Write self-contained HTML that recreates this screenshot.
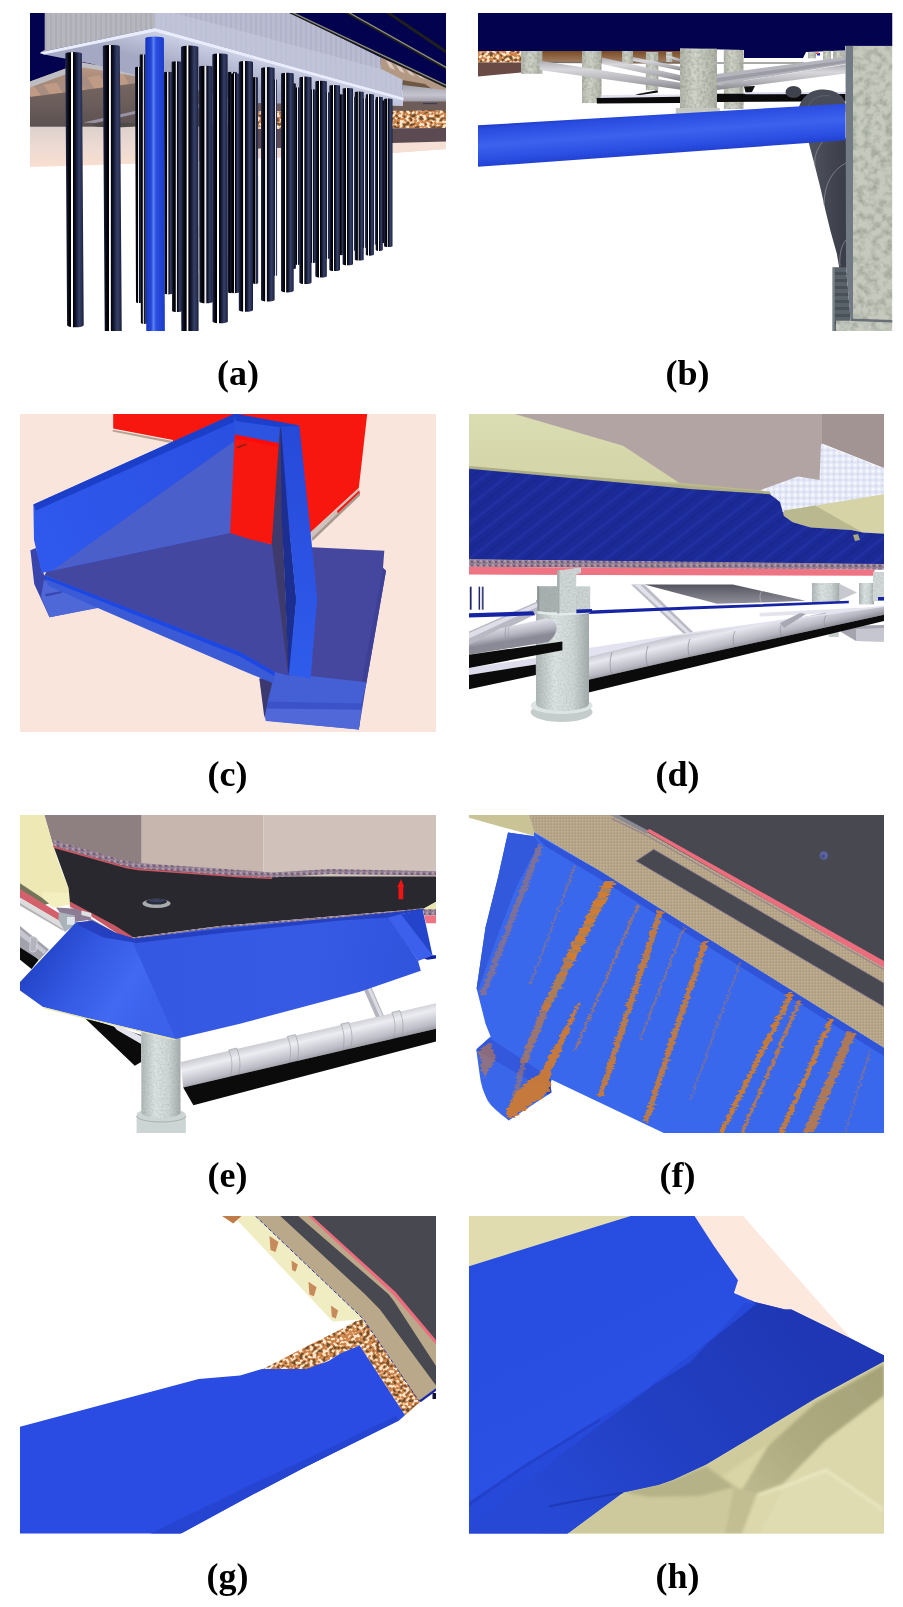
<!DOCTYPE html>
<html><head><meta charset="utf-8"><title>Figure</title>
<style>
html,body{margin:0;padding:0;background:#fff;}
body{width:903px;height:1607px;overflow:hidden;position:relative;font-family:"Liberation Serif",serif;}
svg{position:absolute;left:0;top:0;display:block;}
</style></head><body>
<svg width="903" height="1607" viewBox="0 0 903 1607">
<!-- defs -->
<defs>
<clipPath id="ca"><rect x="30" y="13" width="416" height="318"/></clipPath>
<clipPath id="cb"><rect x="478" y="13" width="414.5" height="318"/></clipPath>
<clipPath id="cc"><rect x="20" y="414" width="416" height="318"/></clipPath>
<clipPath id="cd"><rect x="469" y="414" width="415" height="318"/></clipPath>
<clipPath id="ce"><rect x="20" y="815" width="416" height="318"/></clipPath>
<clipPath id="cf"><rect x="469" y="815" width="415" height="318"/></clipPath>
<clipPath id="cg"><rect x="20" y="1216" width="416" height="317.5"/></clipPath>
<clipPath id="ch"><rect x="469" y="1216" width="415" height="317.5"/></clipPath>
<!-- dark pile gradient -->
<linearGradient id="pile" x1="0" x2="1" y1="0" y2="0">
<stop offset="0" stop-color="#232b4c"/><stop offset="0.1" stop-color="#10142a"/><stop offset="0.24" stop-color="#010103"/><stop offset="0.3" stop-color="#000"/>
<stop offset="0.335" stop-color="#fff"/><stop offset="0.4" stop-color="#fff"/><stop offset="0.44" stop-color="#020308"/>
<stop offset="0.56" stop-color="#11162e"/><stop offset="0.75" stop-color="#363f66"/><stop offset="0.88" stop-color="#2a3256"/><stop offset="1" stop-color="#141a34"/>
</linearGradient>
<linearGradient id="pile2" x1="0" x2="1" y1="0" y2="0">
<stop offset="0" stop-color="#1a2140"/><stop offset="0.2" stop-color="#03040a"/><stop offset="0.36" stop-color="#000"/>
<stop offset="0.42" stop-color="#e8e8f0"/><stop offset="0.5" stop-color="#e8e8f0"/><stop offset="0.56" stop-color="#060814"/>
<stop offset="0.78" stop-color="#333c62"/><stop offset="1" stop-color="#161c38"/>
</linearGradient>
<linearGradient id="pileb" x1="0" x2="1" y1="0" y2="0">
<stop offset="0" stop-color="#151b36"/><stop offset="0.3" stop-color="#03040a"/><stop offset="0.6" stop-color="#1c2444"/><stop offset="0.8" stop-color="#343e66"/><stop offset="1" stop-color="#1a2040"/>
</linearGradient>
<linearGradient id="bluepile" x1="0" x2="1" y1="0" y2="0">
<stop offset="0" stop-color="#1735b8"/><stop offset="0.3" stop-color="#2448d8"/><stop offset="0.42" stop-color="#5b80f2"/><stop offset="0.55" stop-color="#2a4ee0"/><stop offset="1" stop-color="#1a3cc8"/>
</linearGradient>
<!-- concrete noise -->
<filter id="conc" x="0" y="0" width="100%" height="100%">
<feTurbulence type="fractalNoise" baseFrequency="0.35" numOctaves="2" seed="3" result="n"/>
<feColorMatrix in="n" type="matrix" values="0 0 0 0 0  0 0 0 0 0  0 0 0 0 0  0.9 0 0 0 -0.3" result="a"/>
<feFlood flood-color="#6e7468"/><feComposite operator="in" in2="a" result="sp"/>
<feMerge><feMergeNode in="SourceGraphic"/><feMergeNode in="sp"/></feMerge>
<feComposite operator="in" in2="SourceGraphic"/>
</filter>
<filter id="concw" x="0" y="0" width="100%" height="100%">
<feTurbulence type="fractalNoise" baseFrequency="0.14" numOctaves="3" seed="11" result="n"/>
<feColorMatrix in="n" type="matrix" values="0 0 0 0 0  0 0 0 0 0  0 0 0 0 0  1.6 0 0 0 -0.62" result="a"/>
<feFlood flood-color="#8e9488"/><feComposite operator="in" in2="a" result="sp"/>
<feMerge><feMergeNode in="SourceGraphic"/><feMergeNode in="sp"/></feMerge>
<feComposite operator="in" in2="SourceGraphic"/>
</filter>
<filter id="weaveF" x="0" y="0" width="100%" height="100%" color-interpolation-filters="sRGB">
<feTurbulence type="fractalNoise" baseFrequency="0.3 0.34" numOctaves="1" seed="9"/>
<feColorMatrix type="matrix" values="2.6 0 0 0 -0.8  2.6 0 0 0 -0.8  2.6 0 0 0 -0.8  0 0 0 0 1"/>
<feComponentTransfer><feFuncR type="discrete" tableValues="0.42 0.55 0.78 0.82 0.84 0.92 0.97 0.97"/><feFuncG type="discrete" tableValues="0.32 0.4 0.5 0.52 0.55 0.78 0.9 0.9"/><feFuncB type="discrete" tableValues="0.2 0.25 0.28 0.3 0.34 0.62 0.8 0.8"/></feComponentTransfer>
<feGaussianBlur stdDeviation="0.5"/>
<feComposite operator="in" in2="SourceGraphic"/>
</filter>
<filter id="conc2" x="0" y="0" width="100%" height="100%">
<feTurbulence type="fractalNoise" baseFrequency="0.5" numOctaves="2" seed="8" result="n"/>
<feColorMatrix in="n" type="matrix" values="0 0 0 0 0  0 0 0 0 0  0 0 0 0 0  0.7 0 0 0 -0.25" result="a"/>
<feFlood flood-color="#8c9494"/><feComposite operator="in" in2="a" result="sp"/>
<feMerge><feMergeNode in="SourceGraphic"/><feMergeNode in="sp"/></feMerge>
<feComposite operator="in" in2="SourceGraphic"/>
</filter>
<!-- speckle (purple-gray/pink band) -->
<pattern id="speck" width="6" height="4" patternUnits="userSpaceOnUse">
<rect width="6" height="4" fill="#8e7c92"/><rect x="0" y="0" width="2" height="2" fill="#b49aa6"/><rect x="3" y="1" width="2" height="2" fill="#6c5e7c"/><rect x="1" y="2" width="1.5" height="2" fill="#a88a90"/>
</pattern>
<!-- orange dots -->
<pattern id="odots" width="6" height="5" patternUnits="userSpaceOnUse">
<rect width="6" height="5" fill="#a87848"/><circle cx="1.5" cy="1.5" r="1.3" fill="#dcb488"/><circle cx="4.5" cy="3.8" r="1.2" fill="#8c5428"/><circle cx="4.3" cy="1" r="0.8" fill="#f0d0a0"/>
</pattern>
<pattern id="weave" width="9" height="8" patternUnits="userSpaceOnUse" patternTransform="rotate(-32)">
<rect width="9" height="8" fill="#c48a62"/><ellipse cx="2.2" cy="2" rx="2.2" ry="1.4" fill="#f2dcc8"/><ellipse cx="6.8" cy="6" rx="2.2" ry="1.4" fill="#f0d4bc"/><ellipse cx="6.5" cy="2" rx="1.8" ry="1.3" fill="#8a6a48"/><ellipse cx="2" cy="6" rx="1.8" ry="1.3" fill="#96704c"/>
</pattern>
<pattern id="hatch" width="14" height="14" patternUnits="userSpaceOnUse" patternTransform="rotate(-38)">
<rect width="14" height="14" fill="#1b2a96"/><rect y="0" width="14" height="3" fill="#2030a0"/><rect y="7" width="14" height="1.5" fill="#18268e"/>
</pattern>
<pattern id="dotw" width="6" height="6" patternUnits="userSpaceOnUse">
<rect width="6" height="6" fill="#e4e8f6"/><circle cx="3" cy="3" r="1.6" fill="#f6f8ff"/><circle cx="0" cy="0" r="1" fill="#ccd2ec"/><circle cx="6" cy="0" r="1" fill="#ccd2ec"/><circle cx="0" cy="6" r="1" fill="#ccd2ec"/><circle cx="6" cy="6" r="1" fill="#ccd2ec"/>
</pattern>
<pattern id="vstr" width="5" height="10" patternUnits="userSpaceOnUse">
<rect width="5" height="10" fill="#b6b6be"/><rect x="0" width="2" height="10" fill="#adadb6"/>
</pattern>
<pattern id="vstr2" width="5" height="10" patternUnits="userSpaceOnUse">
<rect width="5" height="10" fill="#b9bcd1"/><rect x="0" width="2" height="10" fill="#b0b3c9"/>
</pattern>
<linearGradient id="gpipe" x1="0" x2="0" y1="0" y2="1">
<stop offset="0" stop-color="#c8c8d0"/><stop offset="0.3" stop-color="#ececf2"/><stop offset="0.7" stop-color="#c4c4cc"/><stop offset="1" stop-color="#8c8c98"/>
</linearGradient>
<linearGradient id="colg" x1="0" x2="1" y1="0" y2="0">
<stop offset="0" stop-color="#aeb6b6"/><stop offset="0.35" stop-color="#dde4e4"/><stop offset="0.7" stop-color="#cfd6d6"/><stop offset="1" stop-color="#a2aaaa"/>
</linearGradient>
<linearGradient id="colg2" x1="0" x2="1" y1="0" y2="0">
<stop offset="0" stop-color="#b4b8ac"/><stop offset="0.4" stop-color="#d4d8cc"/><stop offset="1" stop-color="#b0b4a8"/>
</linearGradient>
</defs>

<!-- a -->
<g clip-path="url(#ca)">
<rect x="30" y="13" width="416" height="318" fill="#fff"/>
<polygon points="30,13 446,13 446,90 300,90 160,30 30,100" fill="#02024e"/>
<defs><linearGradient id="peachA" x1="0" x2="0" y1="0" y2="1"><stop offset="0" stop-color="#ddd0cc"/><stop offset="0.5" stop-color="#ecdad2"/><stop offset="1" stop-color="#f9dfd0"/></linearGradient><linearGradient id="brownA" x1="0" x2="0" y1="0" y2="1"><stop offset="0" stop-color="#bd9a84"/><stop offset="0.45" stop-color="#9c8274"/><stop offset="0.8" stop-color="#8a7c78"/><stop offset="1" stop-color="#6e6a6a"/></linearGradient><linearGradient id="brownB" x1="0" x2="0" y1="0" y2="1"><stop offset="0" stop-color="#7c6a64"/><stop offset="1" stop-color="#5c5252"/></linearGradient><linearGradient id="undA" gradientUnits="userSpaceOnUse" x1="200" y1="42" x2="192" y2="72"><stop offset="0" stop-color="#cdd1e6"/><stop offset="1" stop-color="#a4a8c2"/></linearGradient><linearGradient id="gbandA" x1="0" x2="0" y1="0" y2="1"><stop offset="0" stop-color="#a4a4b0"/><stop offset="0.6" stop-color="#c4c4ce"/><stop offset="1" stop-color="#9c98a4"/></linearGradient></defs>
<polygon points="30,126 250,126 250,149 392,142.5 446,141.5 446,149 392,153 135,163.8 30,167" fill="url(#peachA)"/>
<polygon points="30,81.5 82,62.5 134,72 200,80 200,126.5 30,126.5" fill="url(#brownA)"/>
<polygon points="30,87 200,58 200,75 30,97" fill="#bf9a84"/>
<polygon points="34,85.8 43,84.3 50,94.0 41,95.5" fill="#a08a80" opacity="0.75"/>
<polygon points="56,82.1 65,80.6 72,91.4 63,92.9" fill="#a08a80" opacity="0.75"/>
<polygon points="78,78.3 87,76.8 94,88.7 85,90.2" fill="#a08a80" opacity="0.75"/>
<polygon points="100,74.6 109,73.1 116,86.1 107,87.6" fill="#a08a80" opacity="0.75"/>
<polygon points="122,70.9 131,69.4 138,83.5 129,85.0" fill="#a08a80" opacity="0.75"/>
<polygon points="144,67.1 153,65.6 160,80.8 151,82.3" fill="#a08a80" opacity="0.75"/>
<polygon points="166,63.4 175,61.9 182,78.2 173,79.7" fill="#a08a80" opacity="0.75"/>
<polygon points="188,59.6 197,58.1 204,75.5 195,77.0" fill="#a08a80" opacity="0.75"/>
<polygon points="30,97 200,75 200,126.5 30,126.5" fill="url(#brownB)"/>
<polygon points="30,81.5 82,62.5 134,72 200,80 200,84 134,76 84,67.5 30,87.5" fill="#bdbdc2"/>
<polygon points="83,122.5 135,111 200,104 200,108 135,114 95,123" fill="#9a92a2"/>
<ellipse cx="114" cy="124.8" rx="22" ry="2.6" fill="#4e4a46"/>
<polygon points="380,57 446,86.6 446,92 402,82 381,70" fill="#b39884"/>
<polygon points="386,60.5 391,62.8 395,70.0 390,68.0" fill="#e4d6cc" opacity="0.8"/>
<polygon points="396,65.0 401,67.3 405,73.2 400,71.2" fill="#e4d6cc" opacity="0.8"/>
<polygon points="406,69.5 411,71.8 415,76.4 410,74.4" fill="#e4d6cc" opacity="0.8"/>
<polygon points="416,74.0 421,76.3 425,79.6 420,77.6" fill="#e4d6cc" opacity="0.8"/>
<polygon points="426,78.5 431,80.8 435,82.8 430,80.8" fill="#e4d6cc" opacity="0.8"/>
<polygon points="436,83.0 441,85.3 445,86.0 440,84.0" fill="#e4d6cc" opacity="0.8"/>
<polygon points="402.4,80 425,84 432,89 402.4,86" fill="#6e5844"/>
<rect x="250" y="86" width="152" height="16" fill="#9a9cae"/>
<polygon points="402.4,85 446,90 446,102 402.4,102" fill="url(#gbandA)"/>
<rect x="250" y="101.5" width="196" height="10" fill="#6e5c58"/>
<polygon points="250,111.5 446,110.5 446,128 250,129" fill="#c48a62" filter="url(#weaveF)"/>
<polygon points="250,129 446,128 446,142.5 250,149" fill="#5c4a52"/>
<polygon points="392,143 446,141.5 446,149 392,153" fill="#f6e0d6"/>
<rect x="423" y="103" width="14" height="1.2" fill="#3c3c50"/>
<polygon points="44.7,13 155,13 155,28 40.4,52.2 44.7,50" fill="url(#vstr)"/>
<polygon points="155,13 291,13 380.3,57.3 381.2,69.1 402.4,79.8 402.4,97.4 155,28" fill="url(#vstr2)"/>
<polygon points="155,13 174.5,13 381.2,69.1 402.4,79.8 402.4,97.4 155,28" fill="#c6cade" opacity="0.6"/>
<polygon points="289,13 295,13 446,84.5 446,88" fill="#1c1c1c"/>
<polygon points="292,13 295,13 446,84.5 446,86" fill="#8c8c84"/>
<polygon points="345,13 351,13 446,66.5 446,70" fill="#20201c"/>
<polygon points="348.5,13 351,13 446,66.5 446,68" fill="#90908a"/>
<polygon points="386,13 391,13 446,50 446,53.5" fill="#20201c"/>
<polygon points="40.4,52.2 155,28 403,97.6 403,106 250,103 135,75 90,63.5 40.4,53.8" fill="url(#undA)"/>
<polygon points="40.4,52.2 155,28 403.5,97.8 403.5,100.5 155,31.5 44,54.5" fill="#e9ecfa"/>
<path d="M135.0,67.5 A3.2,0.8 0 0 1 141.5,67.5 L142.5,302.0 A3.2,1.1 0 0 1 136.0,302.0 Z" fill="url(#pile2)"/>
<path d="M139.7,54.8 A3.2,0.8 0 0 1 146.0,54.8 L147.2,323.0 A3.2,1.1 0 0 1 140.9,323.0 Z" fill="url(#pile2)"/>
<path d="M163.9,72.6 A4.0,0.8 0 0 1 172.0,72.6 L172.5,293.3 A4.0,1.1 0 0 1 164.4,293.3 Z" fill="url(#pile2)"/>
<path d="M171.6,61.9 A5.0,0.9 0 0 1 181.5,61.9 L182.0,311.0 A5.0,1.2 0 0 1 172.1,311.0 Z" fill="url(#pile2)"/>
<path d="M199.0,66.7 A6.8,1.2 0 0 1 212.5,66.7 L212.9,301.8 A6.8,1.7 0 0 1 199.4,301.8 Z" fill="url(#pile2)"/>
<path d="M227.6,72.6 A4.7,0.8 0 0 1 237.0,72.6 L237.3,292.0 A4.7,1.2 0 0 1 227.9,292.0 Z" fill="url(#pile2)"/>
<path d="M230.0,73.9 A4.8,0.9 0 0 1 239.5,73.9 L239.8,292.0 A4.8,1.2 0 0 1 230.3,292.0 Z" fill="url(#pile2)"/>
<path d="M252.5,77.7 A2.8,0.8 0 0 1 258.0,77.7 L258.2,283.0 A2.8,1.1 0 0 1 252.7,283.0 Z" fill="url(#pile2)"/>
<path d="M274.0,80.0 A1.5,0.8 0 0 1 277.0,80.0 L277.1,275.0 A1.5,1.1 0 0 1 274.1,275.0 Z" fill="url(#pile2)"/>
<path d="M292.0,84.0 A2.0,0.8 0 0 1 296.0,84.0 L296.0,268.0 A2.0,1.1 0 0 1 292.0,268.0 Z" fill="url(#pile2)"/>
<path d="M295.0,87.9 A2.8,0.8 0 0 1 300.5,87.9 L300.5,264.0 A2.8,1.1 0 0 1 295.0,264.0 Z" fill="url(#pile2)"/>
<path d="M310.0,90.0 A3.0,0.8 0 0 1 316.0,90.0 L316.0,262.0 A3.0,1.1 0 0 1 310.0,262.0 Z" fill="url(#pile2)"/>
<path d="M325.0,93.0 A2.5,0.8 0 0 1 330.0,93.0 L330.0,258.0 A2.5,1.1 0 0 1 325.0,258.0 Z" fill="url(#pile2)"/>
<path d="M339.0,95.0 A2.2,0.8 0 0 1 343.5,95.0 L343.5,254.0 A2.2,1.1 0 0 1 339.0,254.0 Z" fill="url(#pile2)"/>
<path d="M352.0,97.0 A1.8,0.8 0 0 1 355.5,97.0 L355.5,250.0 A1.8,1.1 0 0 1 352.0,250.0 Z" fill="url(#pile2)"/>
<path d="M362.5,99.0 A2.0,0.8 0 0 1 366.5,99.0 L366.5,247.0 A2.0,1.1 0 0 1 362.5,247.0 Z" fill="url(#pile2)"/>
<path d="M373.0,100.0 A1.5,0.8 0 0 1 376.0,100.0 L376.0,244.0 A1.5,1.1 0 0 1 373.0,244.0 Z" fill="url(#pile2)"/>
<path d="M382.0,101.0 A1.2,0.8 0 0 1 384.5,101.0 L384.5,242.0 A1.2,1.1 0 0 1 382.0,242.0 Z" fill="url(#pile2)"/>
<path d="M65.3,53.5 A8.3,1.5 0 0 1 81.9,53.5 L83.7,325.2 A8.3,2.1 0 0 1 67.1,325.2 Z" fill="url(#pile)"/>
<path d="M102.8,46.4 A8.5,1.5 0 0 1 119.8,46.4 L121.8,340.0 A8.5,2.1 0 0 1 104.8,340.0 Z" fill="url(#pile)"/>
<path d="M145.3,38.2 A9.3,1.7 0 0 1 163.9,38.2 L164.9,340.0 A9.3,2.3 0 0 1 146.3,340.0 Z" fill="url(#bluepile)"/>
<path d="M181.0,47.0 A8.7,1.6 0 0 1 198.3,47.0 L198.6,340.0 A8.7,2.2 0 0 1 181.3,340.0 Z" fill="url(#pile)"/>
<path d="M212.3,54.8 A7.6,1.4 0 0 1 227.6,54.8 L227.8,321.4 A7.6,1.9 0 0 1 212.5,321.4 Z" fill="url(#pile)"/>
<path d="M238.8,62.2 A7.1,1.3 0 0 1 253.0,62.2 L253.0,310.0 A7.1,1.8 0 0 1 238.8,310.0 Z" fill="url(#pile)"/>
<path d="M261.0,68.3 A6.8,1.2 0 0 1 274.6,68.3 L274.6,299.7 A6.8,1.7 0 0 1 261.0,299.7 Z" fill="url(#pile)"/>
<path d="M281.0,73.9 A6.3,1.1 0 0 1 293.7,73.9 L293.7,290.8 A6.3,1.6 0 0 1 281.0,290.8 Z" fill="url(#pile)"/>
<path d="M299.3,77.7 A6.1,1.1 0 0 1 311.5,77.7 L311.5,282.6 A6.1,1.5 0 0 1 299.3,282.6 Z" fill="url(#pile)"/>
<path d="M315.3,81.5 A5.8,1.0 0 0 1 326.8,81.5 L326.8,276.3 A5.8,1.4 0 0 1 315.3,276.3 Z" fill="url(#pile)"/>
<path d="M329.3,86.0 A5.3,1.0 0 0 1 340.0,86.0 L340.0,269.7 A5.3,1.3 0 0 1 329.3,269.7 Z" fill="url(#pile)"/>
<path d="M342.6,89.0 A5.2,0.9 0 0 1 353.0,89.0 L353.0,264.0 A5.2,1.3 0 0 1 342.6,264.0 Z" fill="url(#pile)"/>
<path d="M354.8,92.2 A4.4,0.8 0 0 1 363.7,92.2 L363.7,259.5 A4.4,1.1 0 0 1 354.8,259.5 Z" fill="url(#pile)"/>
<path d="M365.8,94.8 A4.0,0.8 0 0 1 373.9,94.8 L373.9,254.6 A4.0,1.1 0 0 1 365.8,254.6 Z" fill="url(#pile)"/>
<path d="M375.7,97.3 A3.6,0.8 0 0 1 382.8,97.3 L382.8,250.0 A3.6,1.1 0 0 1 375.7,250.0 Z" fill="url(#pile)"/>
<path d="M384.0,99.3 A4.2,0.8 0 0 1 392.5,99.3 L392.5,246.0 A4.2,1.1 0 0 1 384.0,246.0 Z" fill="url(#pile)"/>
</g>
<!-- b -->
<g clip-path="url(#cb)">
<rect x="478" y="13" width="415" height="318" fill="#fff"/>
<defs>
<linearGradient id="bpipe" gradientUnits="userSpaceOnUse" x1="660" y1="112" x2="663" y2="153">
<stop offset="0" stop-color="#1f3cc6"/><stop offset="0.1" stop-color="#294be0"/><stop offset="0.5" stop-color="#3c62ee"/><stop offset="0.85" stop-color="#2a4ee2"/><stop offset="1" stop-color="#2242d2"/></linearGradient>
<linearGradient id="brB" x1="0" x2="0" y1="0" y2="1"><stop offset="0" stop-color="#7a4c24"/><stop offset="1" stop-color="#a8846c"/></linearGradient>
<linearGradient id="gpb" x1="0" x2="0" y1="0" y2="1"><stop offset="0" stop-color="#acacb0"/><stop offset="0.3" stop-color="#d8d8dc"/><stop offset="0.7" stop-color="#b0b0b6"/><stop offset="1" stop-color="#85858c"/></linearGradient>
<linearGradient id="tunn" x1="0" x2="1" y1="0" y2="0"><stop offset="0" stop-color="#50545e"/><stop offset="1" stop-color="#3a3c48"/></linearGradient>
</defs>
<polygon points="478,13 892.5,13 892.5,46 845,46 845,50.5 806,52 803,58 744,58 744,50 680,48.5 680,51 478,51" fill="#02024e"/>
<rect x="478" y="51" width="43" height="11.5" fill="#c48a62" filter="url(#weaveF)"/>
<polygon points="478,62.4 521,62.4 521,72.6 478,76.4" fill="#6a4a44"/>
<polygon points="542,51 680,51 680,64 542,63" fill="url(#brB)"/>
<rect x="542" y="61.8" width="138" height="1.2" fill="#70706c"/>
<rect x="717" y="62.4" width="87" height="1.2" fill="#70706c"/>
<rect x="521" y="51" width="21.6" height="22.9" fill="url(#colg2)" filter="url(#conc)"/>
<rect x="582" y="51" width="19.7" height="52.2" fill="url(#colg2)" filter="url(#conc)"/>
<rect x="622" y="51" width="11.0" height="12.0" fill="url(#colg2)" filter="url(#conc)"/>
<rect x="645.7" y="52" width="12.8" height="38.4" fill="url(#colg2)" filter="url(#conc)"/>
<rect x="666" y="52" width="6.5" height="10.0" fill="url(#colg2)" filter="url(#conc)"/>
<rect x="723.7" y="50" width="20.0" height="59.0" fill="url(#colg2)" filter="url(#conc)"/>
<rect x="808" y="52" width="8.0" height="6.5" fill="url(#colg2)" filter="url(#conc)"/>
<rect x="823" y="50.6" width="8.0" height="9.4" fill="url(#colg2)" filter="url(#conc)"/>
<rect x="833" y="50.6" width="12.5" height="11.4" fill="url(#colg2)" filter="url(#conc)"/>
<rect x="817" y="53" width="3" height="2.5" fill="#2030d0"/><rect x="816" y="52.5" width="3" height="1.5" fill="#e04030"/>
<polygon points="633,57 680,66.5 680,70.5 633,61" fill="url(#gpb)"/>
<polygon points="666,54.5 680,59 680,62 666,57" fill="url(#gpb)"/>
<polygon points="602,57.5 680,75 680,81 602,64" fill="url(#gpb)"/>
<polygon points="538.8,60.6 681,82.8 681,89.7 540,70" fill="url(#gpb)"/>
<polygon points="602,95 680,94.5 680,97 600,98" fill="#e0e2f2"/>
<polygon points="635,94.4 657.5,90.2 658,92.6 640,95" fill="#111"/>
<polygon points="596.6,98 680,96.8 680,103 597,103.4" fill="#0a0a0a"/>
<polygon points="717,74 845.5,57 845.5,64 717,85" fill="#b4b4bc"/>
<polygon points="717,78 845.5,60 845.5,63 717,82" fill="#9c9ca6"/>
<polygon points="717,85 845.5,64.5 845.5,73.5 717,90" fill="url(#gpb)"/>
<polygon points="744,86.4 755,86 752,92 746,94" fill="#111"/>
<polygon points="717,93.8 845.5,93.8 845.5,101.3 717,102" fill="#0a0a0a"/>
<polygon points="745,92.3 845.5,92 845.5,94 745,94.3" fill="#d8daf0"/>
<ellipse cx="793.5" cy="92" rx="8" ry="6" fill="#3e424c"/>
<path d="M798,112 C800,96 812,89 824,89.5 C836,90 844,96 845.5,104 L845.5,112 Z" fill="#484c58"/>
<path d="M806,112 C808,100 818,94 830,96" fill="none" stroke="#5c606a" stroke-width="1"/>
<rect x="680" y="48.4" width="37.0" height="64.6" fill="url(#colg2)" filter="url(#conc)"/>
<rect x="675.8" y="108" width="44" height="6" fill="#c4c8c0"/>
<path d="M808,140 L814.6,164.7 L820.8,189.4 L825.7,211.6 L830.6,231.4 L836.8,253.6 L839.3,268 L846,268 L846,138 Z" fill="url(#tunn)"/>
<path d="M823,141 C816,150 814,158 815,166" fill="none" stroke="#8c8c90" stroke-width="0.8"/>
<path d="M846,163 C832,170 824,185 824,205" fill="none" stroke="#8c8c90" stroke-width="0.8"/>
<path d="M846,240 C841,246 839,256 840,266" fill="none" stroke="#8c8c90" stroke-width="0.8"/>
<polygon points="478,125.3 845.5,103.7 845.5,140.3 478,166.8" fill="url(#bpipe)"/>
<polygon points="832.6,267.2 846,267.2 851,324 851,331 832.6,331" fill="#5a626a"/>
<polygon points="835,272 846.4,272 846.9,275 835,275" fill="#4a5058"/>
<polygon points="835,279 847.0,279 847.5,282 835,282" fill="#4a5058"/>
<polygon points="835,286 847.5,286 848.0,289 835,289" fill="#4a5058"/>
<polygon points="835,293 848.1,293 848.6,296 835,296" fill="#4a5058"/>
<polygon points="835,300 848.6,300 849.1,303 835,303" fill="#4a5058"/>
<polygon points="835,307 849.2,307 849.7,310 835,310" fill="#4a5058"/>
<polygon points="835,314 849.8,314 850.3,317 835,317" fill="#4a5058"/>
<polygon points="835,321 850.3,321 850.8,324 835,324" fill="#4a5058"/>
<rect x="832.6" y="267.2" width="2" height="64" fill="#7c848c"/>
<polygon points="845.5,45.7 853,45.7 853,319 850.4,319 846,267" fill="#727a84"/>
<rect x="853" y="45.7" width="39.5" height="275" fill="#c6cabe" filter="url(#concw)"/>
<rect x="836" y="320.5" width="56.5" height="11" fill="#c8ccc2" filter="url(#concw)"/>
<polygon points="851,318.5 892.5,320 892.5,322.5 851,321" fill="#6a7078"/>
</g>
<!-- c -->
<g clip-path="url(#cc)">
<rect x="20" y="414" width="416" height="318" fill="#f9e5dc"/>
<defs>
<linearGradient id="wallL" gradientUnits="userSpaceOnUse" x1="40" y1="520" x2="230" y2="440"><stop offset="0" stop-color="#2f58ec"/><stop offset="1" stop-color="#2a50e2"/></linearGradient>
<linearGradient id="endR" gradientUnits="userSpaceOnUse" x1="0" y1="426" x2="0" y2="680"><stop offset="0" stop-color="#2649d8"/><stop offset="0.6" stop-color="#2c54e4"/><stop offset="1" stop-color="#2f5cec"/></linearGradient>
</defs>
<polygon points="113.2,414 367.2,414 358.8,488 310.4,532.5 240,545 173,441 113.2,429.3" fill="#f7170e"/>
<polygon points="113.2,429.3 173,440.8 173,443.5 112.5,431.6" fill="#b9a293"/>
<polygon points="112.8,428.6 173,440 173,441 113,429.8" fill="#f4ece6"/>
<polygon points="358.8,488 360,494 312,539.5 310.4,532.5" fill="#cfc2bc"/>
<polygon points="359.2,490.5 360,494 338,514 337,511" fill="#f7170e"/>
<polygon points="359.5,492.5 360,495.5 312.5,541 312,538" fill="#a89890"/>
<polygon points="311.7,547.2 384.3,550.8 383,568 386,570.7 366.5,682.3 358.8,729.4 300,700 300,560" fill="#45479e"/>
<polygon points="383,568 386,570.7 366.5,682.3 361,705 358.8,729.4 353,728 362,680" fill="#3e4098"/>
<polygon points="259.5,678.4 272,670 292,672 311,676 366.5,682.3 361.4,705 358.8,729.4 265.8,720.5" fill="#4560d4"/>
<polygon points="264.4,704 362,707 358.8,729.4 265.8,721" fill="#5068d8"/>
<polygon points="265.6,701.5 362.5,703.5 361.5,709.7 265,708.5" fill="#3c52c8"/>
<polygon points="259.4,678.7 273,680 268,700 264.4,718" fill="#3c3870"/>
<polygon points="30.4,550.3 36,548 44,575 100.4,607 49.5,617.3 34.2,584" fill="#3a45ac"/>
<polygon points="44,580 100.4,605.5 100.4,607.5 49.5,617.3 41,597" fill="#4f68d8"/>
<polygon points="45,594 62,591 62,593 46,596.5" fill="#3848b0"/>
<polygon points="47,571 52,569.8 231.6,532.2 250,538.6 275,545 290,676 274.8,672 44.4,575.3" fill="#44479f"/>
<polygon points="44.4,575.3 240,652 274.8,672 273.5,683.5 240,669.5 99,608.4 48,585.5" fill="#3b5ad6"/>
<polygon points="44.4,575.3 240,652 274.8,672 274.4,676 240,656.5 45.5,579" fill="#1d47e2"/>
<polygon points="33.4,504.4 234.1,414 236.6,414.8 235,434.4 231.6,532.5 52,570.7 41.8,573 34,540" fill="url(#wallL)"/>
<polygon points="52,570.7 234.6,441 231.6,532.5" fill="#4b5fcb"/>
<polygon points="33.4,504.4 234.1,414 238,414 236,421 36,510.5" fill="#1c3fca"/>
<polygon points="234.8,434.4 279,443.3 272.2,544.6 250,539.2 230.2,533" fill="#f7170e"/>
<polygon points="235.5,434.4 279,443.3 279,447 235.3,438.5" fill="#ff0a08"/>
<polygon points="236,447 246,443.5 247,444.5 238,448.5" fill="#7a2018" opacity="0.8"/>
<polygon points="234,418 236.6,414.8 299,425.5 299,430 281,443.5 235,434.4" fill="#2c54e0"/>
<polygon points="234.1,414 238,414 299,425.5 298,430 236,421" fill="#1d40cc"/>
<polygon points="279.9,428 271.8,543 288,673 289,673 285,581.8 282,517 281,428" fill="#3e3a6c"/>
<polygon points="280.5,428 281.6,517 284.8,581.8 288.4,673 290,673 296.4,599.6 290,533.3 282,428" fill="#1c2e90"/>
<polygon points="281,427 299.4,425.7 310.7,533.3 317.2,599.6 313.1,646.5 310.7,678.4 288.8,675 296.1,599.6 289.6,533.3" fill="url(#endR)"/>
</g>
<!-- d -->
<g clip-path="url(#cd)">
<rect x="469" y="414" width="415" height="318" fill="#fff"/>
<defs>
<linearGradient id="yelD" x1="0" x2="0" y1="0" y2="1"><stop offset="0" stop-color="#dadcb2"/><stop offset="1" stop-color="#d2d4a6"/></linearGradient>
<linearGradient id="coneD" x1="0" x2="0" y1="0" y2="1"><stop offset="0" stop-color="#54545e"/><stop offset="1" stop-color="#90909a"/></linearGradient>
<linearGradient id="gpd" gradientUnits="userSpaceOnUse" x1="700" y1="630" x2="706" y2="656"><stop offset="0" stop-color="#c4c4cc"/><stop offset="0.3" stop-color="#e8e8f0"/><stop offset="0.75" stop-color="#b8b8c2"/><stop offset="1" stop-color="#8a8a96"/></linearGradient>
<linearGradient id="gpd2" gradientUnits="userSpaceOnUse" x1="500" y1="618" x2="504" y2="642"><stop offset="0" stop-color="#c4c4cc"/><stop offset="0.3" stop-color="#e6e6ee"/><stop offset="0.75" stop-color="#b4b4c0"/><stop offset="1" stop-color="#8a8a96"/></linearGradient>
</defs>
<rect x="469" y="414" width="353" height="120" fill="#b3a4a4"/>
<polygon points="822,414 884,414 884,468 822,443.5" fill="#a39494"/>
<polygon points="759.6,490.4 797.8,476.4 819.5,480 821,444 884,468.5 884,496 810,512 782,512 776,498" fill="url(#dotw)"/>
<polygon points="469,414 514.8,414 623,445.8 679,482.8 700,486 760.9,490.4 770,494.5 469,470" fill="url(#yelD)"/>
<polygon points="600,478 679,482.8 760.9,490.4 770,494.5 690,489.5" fill="#bcba8c"/>
<polygon points="783.8,510.8 884,494.2 884,534 862.8,532.5 851.3,530 810.5,527.4 792.7,522.3 785,516" fill="#d6d4a6"/>
<polygon points="783.8,510.8 815,505.5 862.8,532.5 851.3,530 810.5,527.4 792.7,522.3 785,516" fill="#bab88e"/>
<polygon points="469,466 600,477.5 690,486 769.8,491.5 771,495 690,489.5 469,469.5" fill="#adad86"/>
<polygon points="469,468.8 690,489 769.8,494.2 780,502 783.8,516 792.7,522.3 810.5,527.4 851.3,530 862.8,532.5 884,533.7 884,564.5 469,559.5" fill="url(#hatch)"/>
<polygon points="853,535 858,534 860,540 855,541" fill="#a8a680"/>
<polygon points="469,559.2 884,564 884,569.8 469,566.8" fill="url(#speck)"/>
<polygon points="469,566.8 874.5,569.6 874.5,575.7 469,574.6" fill="#ee7484"/>
<polygon points="644.3,584.6 732.9,584.4 805.4,600.8 760,602.5 717,603.8" fill="url(#coneD)"/>
<path d="M762,591 C759.5,594 759.5,598 761,602" stroke="#b8b8c0" stroke-width="0.7" fill="none"/>
<polygon points="839.8,584 857,592.5 840,600" fill="#c8c8d0"/>
<rect x="811.8" y="583" width="28" height="19" fill="url(#colg)" filter="url(#conc2)"/>
<rect x="859" y="583" width="15.2" height="21.6" fill="url(#colg)" filter="url(#conc2)"/>
<rect x="873" y="572" width="11" height="29" fill="#d4dada" filter="url(#conc2)"/>
<rect x="828.7" y="632" width="10" height="5" fill="#c4cccc"/>
<polygon points="631,584.4 644.3,584.4 695.2,634 686.4,636.5" fill="#bcbcc6"/>
<polygon points="634,584.4 640,584.4 692,634.6 689,635.6" fill="#e2e2ea"/>
<polygon points="759.6,613 884,606.5 884,610.5 759.6,616.5" fill="#e4e4ee"/>
<polygon points="780,622 825.8,612.5 828,616 783,627.5" fill="#b8b8c2"/>
<polygon points="841,626 884,625 884,641.5 856,641 841,632" fill="#a4a4ae"/>
<polygon points="856,629 884,628 884,641.5 856,641" fill="#c6c6d0"/>
<polygon points="469,668 535.9,658 535.9,664.4 469,675" fill="#dcdcec"/>
<polygon points="469,675 535.9,664.4 535.9,675 469,689.2" fill="#0b0b0b"/>
<polygon points="588.6,647.9 690,632.6 884,605.5 884,607 690,636.4 588.6,656.8" fill="#e2e2f0"/>
<polygon points="588.6,656.8 673,636.4 884,607 884,614.8 673,660.6 588.6,679.7" fill="url(#gpd)"/>
<path d="M612,652.3 C609.5,660.0 609.5,667.3 612,674.6" stroke="#8e8e9a" stroke-width="0.7" fill="none"/>
<path d="M648,646.1 C645.5,653.3 645.5,660.0 648,666.6" stroke="#8e8e9a" stroke-width="0.7" fill="none"/>
<path d="M690,638.9 C687.5,645.4 687.5,651.4 690,657.4" stroke="#8e8e9a" stroke-width="0.7" fill="none"/>
<path d="M735,631.1 C732.5,636.9 732.5,642.2 735,647.5" stroke="#8e8e9a" stroke-width="0.7" fill="none"/>
<path d="M782,623.0 C779.5,628.1 779.5,632.7 782,637.2" stroke="#8e8e9a" stroke-width="0.7" fill="none"/>
<path d="M826,615.5 C823.5,619.8 823.5,623.7 826,627.5" stroke="#8e8e9a" stroke-width="0.7" fill="none"/>
<polygon points="588.6,679.7 673,660.6 884,614.8 884,621 673,672 588.6,692.5" fill="#0b0b0b"/>
<polygon points="780,623 800,613 806,614 784,628" fill="#a8a8b4"/>
<polygon points="577.2,611 690,606.6 848.8,600.8 848.8,603.3 690,609.6 577.2,614.5" fill="#1624a4"/>
<rect x="878" y="597" width="6" height="3.5" fill="#1624a4"/>
<rect x="469.8" y="586.7" width="1.8" height="23" fill="#202868"/><rect x="478.6" y="586.7" width="1.5" height="23" fill="#202868"/><rect x="481.8" y="586.7" width="1.8" height="23" fill="#3a4078"/>
<ellipse cx="561.6" cy="712" rx="31" ry="10" fill="#c4cccc"/>
<ellipse cx="561.6" cy="705.5" rx="31" ry="8.5" fill="#dde4e4"/>
<path d="M535.9,600 L589,600 L589,704 A26.5,7 0 0 1 535.9,704 Z" fill="url(#colg)" filter="url(#conc2)"/>
<rect x="537.2" y="586.2" width="53.2" height="26" fill="#ccd4d4" filter="url(#conc2)"/>
<rect x="537.2" y="586.2" width="20" height="26" fill="#a9b1b1" filter="url(#conc2)"/>
<rect x="537.2" y="586.2" width="2" height="26" fill="#8a9292"/>
<path d="M537.2,611 Q562,615 590.4,610.5 L590.4,613 Q562,617.5 537.2,613.5 Z" fill="#e4eaea"/>
<polygon points="557.1,570.5 581,567.2 581,573 576.4,574.5 576.4,611.5 557.1,613.5" fill="#cfd7d7" filter="url(#conc2)"/>
<polygon points="557.1,570.5 559.5,570.2 559.5,613.3 557.1,613.5" fill="#a4acac"/>
<polygon points="576.4,609.6 592,609 592,612.6 576.4,613.2" fill="#1624a4"/>
<polygon points="469,631.5 537.2,601.5 537.2,613.5 469,647" fill="#b9b9c4"/>
<polygon points="469,633 537.2,603 537.2,607 469,638.5" fill="#dedee8"/>
<polygon points="469,613.2 533.2,611.3 535,615.3 469,617.6" fill="#1624a4"/>
<path d="M469,645 L500,628.5 L546,618.5 Q557.5,620 556.5,629 Q555.5,637 548,642 L469,654.7 Z" fill="url(#gpd2)"/>
<path d="M506,627 C504.5,632 505,641 507.5,648" stroke="#9494a0" stroke-width="0.7" fill="none"/>
<path d="M509,626.5 C507.5,632 508,641 510.5,647.5" stroke="#9494a0" stroke-width="0.5" fill="none"/>
<polygon points="469,654.7 562.4,641.4 562.4,650.2 469,668" fill="#0b0b0b"/>
</g>
<!-- e -->
<g clip-path="url(#ce)">
<rect x="20" y="815" width="416" height="318" fill="#fff"/>
<defs>
<linearGradient id="blE1" gradientUnits="userSpaceOnUse" x1="40" y1="940" x2="150" y2="1010"><stop offset="0" stop-color="#2142c4"/><stop offset="0.35" stop-color="#3256e0"/><stop offset="0.75" stop-color="#4169f2"/><stop offset="1" stop-color="#3c62ec"/></linearGradient>
<linearGradient id="blE2" gradientUnits="userSpaceOnUse" x1="150" y1="940" x2="420" y2="960"><stop offset="0" stop-color="#3558e2"/><stop offset="0.6" stop-color="#365ae4"/><stop offset="1" stop-color="#3054dc"/></linearGradient>
<linearGradient id="gpe" gradientUnits="userSpaceOnUse" x1="300" y1="1033" x2="307" y2="1062"><stop offset="0" stop-color="#c8c8d0"/><stop offset="0.3" stop-color="#ececf2"/><stop offset="0.75" stop-color="#bcbcc6"/><stop offset="1" stop-color="#8e8e9a"/></linearGradient>
</defs>
<polygon points="44.4,815 141.7,815 141.7,866 52,842" fill="#8e8080"/>
<rect x="141.7" y="815" width="121.6" height="62" fill="#c6b6ae"/>
<rect x="263.3" y="815" width="172.7" height="62" fill="#d0c2ba"/>
<polygon points="20,815 44.4,815 53.3,845.8 57.6,860 63.7,876.6 69.3,888.8 69.8,904.3 53.8,907.6 48,903.5 41.6,898.2 20,884" fill="#eee9b4"/>
<polygon points="41.6,892 69.5,893 69.8,904.3 53.8,907.6 43.8,900" fill="#f3efbe"/>
<polygon points="20,883.3 41.6,897.5 49,903.5 44.5,905 20,889.8" fill="#74745a"/>
<polygon points="20,889.3 59.3,913.2 58.7,920.4 20,897.7" fill="#d4606c"/>
<polygon points="20,897.7 58.7,920.4 63.7,930.9 20,905.4" fill="#dcdcdc"/>
<polygon points="20,903 63,929 63.7,930.9 20,905.4" fill="#b4b4b8"/>
<polygon points="20,944.2 38.8,959.7 31.6,969 20,959.7" fill="#0b0b0b"/>
<polygon points="20,926 49,949.5 39.4,959.7 20,947.5" fill="#a2a2ac"/>
<polygon points="20,929 46.5,951 44,954 20,936" fill="#c6c6d0"/>
<path d="M30.5,937 Q35,935.5 37.5,939 L36,951 Q32,953.5 29.6,950.5 Z" fill="#b4b4be" stroke="#dcdce4" stroke-width="0.7"/>
<polygon points="53.3,845.8 126,866 240,876.4 436,876.4 436,901.8 425.3,907.7 423,909 398.3,910.8 220,926 132.3,937.5 69.9,901.9 68.6,888" fill="#28282e"/>
<polygon points="52,839.5 125.9,861 138.6,863 240,870 272,872.5 330,869 436,871.3 436,875.5 330,874 272,877.5 240,876 138,868.5 126,866.5 53.3,845.8" fill="url(#speck)"/>
<polygon points="53.3,845.8 126,866.5 138,868.5 240,876 272,877.5 272,879 240,877.6 138,870.3 126,868.3 54,848" fill="#c85864"/>
<ellipse cx="156.5" cy="903.4" rx="14" ry="4.6" fill="#a8acac"/><ellipse cx="156.5" cy="901.6" rx="10.5" ry="3" fill="#2a2c3a"/><ellipse cx="156.5" cy="900.6" rx="8" ry="1.6" fill="#3c4060"/>
<polygon points="398.5,899.3 398.5,887 397.2,887 399.8,882 401,879 402.2,882 404.2,887 403.2,887 403.2,899.3" fill="#f01414"/>
<polygon points="425.3,907.7 436,902 436,909.5 423,909.5" fill="#e8e4b0"/>
<polygon points="423,909.3 436,909.3 436,915.4 424.2,915.4" fill="url(#speck)"/>
<polygon points="424.2,915.4 436,915.4 436,923.2 426,923.2" fill="#ee7484"/>
<polygon points="132.3,937.5 220,926 398.3,910.8 424,908 424,910.3 398.3,913 220,928.4 132.3,941" fill="url(#speck)"/>
<polygon points="69.8,901.5 115,925.5 132.3,936.5 132.3,942.6 115,932 91.4,916.5 70,907" fill="#c85864"/>
<polygon points="80,912.5 132.3,942 125,942 84,918" fill="#9c8c98"/>
<polygon points="56,907.6 77,908.7 91.4,916.5 90.3,919.8 74.8,922 59.3,912" fill="#8c7c94"/>
<polygon points="58.7,912 74.8,915.4 74.8,925 64.8,932 58.7,920.4" fill="#aab2ba"/>
<rect x="67" y="917" width="7.8" height="7.8" fill="#dfe5ea"/>
<polygon points="81.4,910.4 91.4,913 91.4,917.6 81.4,915" fill="#dde1e4"/>
<polygon points="83.9,1017.3 141.2,1035 141.2,1062 134.8,1065.7" fill="#0b0b0b"/>
<polygon points="110,1022 141.2,1036 141.2,1044 117,1030" fill="#e4e4ee"/>
<polygon points="363.8,989.6 371.6,987.5 384,1016 376.5,1018.5" fill="#b4b4be"/>
<polygon points="367.5,988.6 370.5,987.8 383,1016.3 380,1017.3" fill="#dcdce4"/>
<polygon points="180.7,1061.9 436,1003.3 436,1028.8 183.2,1087.4" fill="url(#gpe)"/>
<path d="M228.7,1049.9 L236.7,1048.1 C240.7,1058.5 240.7,1067.0 238.2,1075.7 L230.2,1077.5 C232.7,1067.0 232.7,1058.5 228.7,1050.0 Z" fill="url(#gpe)" stroke="#9a9aa6" stroke-width="0.6"/>
<path d="M287.3,1036.4 L295.3,1034.6 C299.3,1045.0 299.3,1053.5 296.8,1062.2 L288.8,1064.0 C291.3,1053.5 291.3,1045.0 287.3,1036.5 Z" fill="url(#gpe)" stroke="#9a9aa6" stroke-width="0.6"/>
<path d="M340.8,1024.1 L348.8,1022.3 C352.8,1032.7 352.8,1041.2 350.3,1049.9 L342.3,1051.7 C344.8,1041.2 344.8,1032.7 340.8,1024.2 Z" fill="url(#gpe)" stroke="#9a9aa6" stroke-width="0.6"/>
<path d="M391.8,1012.4 L399.8,1010.6 C403.8,1021.0 403.8,1029.5 401.3,1038.2 L393.3,1040.0 C395.8,1029.5 395.8,1021.0 391.8,1012.5 Z" fill="url(#gpe)" stroke="#9a9aa6" stroke-width="0.6"/>
<polygon points="183.2,1087.4 436,1028.8 436,1041.5 193.4,1105.2" fill="#0b0b0b"/>
<path d="M136.6,1115 A24.6,7 0 0 1 185.8,1115 L185.8,1133 L136.6,1133 Z" fill="#ccd4d4"/>
<path d="M141.2,1025 L180.7,1025 L180.7,1113 A19.8,5.5 0 0 1 141.2,1113 Z" fill="url(#colg)" filter="url(#conc2)"/>
<path d="M136.6,1116 A24.6,6 0 0 0 185.8,1116" stroke="#a8b0b0" stroke-width="1" fill="none"/>
<polygon points="400.4,914.3 422.5,909 432.5,955.3 418,960.8" fill="#2444cc"/>
<polygon points="432.5,955.3 436,955.3 436,958.6 427.5,959.7 424,958.5" fill="#1420a0"/>
<polygon points="130,939.5 220,927.6 387.6,914 418,960.8 420.8,970.8 360,991.8 240,1023.7 175.6,1039 170,1035" fill="url(#blE2)"/>
<polygon points="387.6,917 400.4,913.6 432.5,955.3 418,960.8" fill="#3c60ec"/>
<polygon points="75,923.5 132.3,941.4 175.6,1039 83.9,1017.3 43.1,1007 20,990.6 20,982" fill="url(#blE1)"/>
<polygon points="74.8,922.6 92.5,920.4 115,932.5 134.4,938.6 220,929 340,917.5 400.4,911.6 422.5,909 422.5,910 400.4,914.3 387.6,917.7 340,920.5 220,933.3 136.2,943 134,942.6 115,939.2 103.6,937.5 74.8,923.3" fill="#2440c0"/>
<polygon points="43.1,1007 83.9,1017.3 175.6,1039 175.6,1040.2 83.9,1018.6 43.1,1008.2" fill="#e8e4a8"/>
</g>
<!-- f -->
<g clip-path="url(#cf)">
<rect x="469" y="815" width="415" height="318" fill="#fff"/>
<defs>
<pattern id="tanp" width="3" height="3" patternUnits="userSpaceOnUse"><rect width="3" height="3" fill="#b6a588"/><rect width="1.5" height="1.5" fill="#c0b092"/><rect x="1.5" y="1.5" width="1.5" height="1.5" fill="#ac9b80"/></pattern>
<filter id="fuzz" x="-5%" y="-5%" width="110%" height="110%"><feTurbulence type="fractalNoise" baseFrequency="0.09 0.5" numOctaves="2" seed="4" result="n"/><feDisplacementMap in="SourceGraphic" in2="n" scale="7" xChannelSelector="R" yChannelSelector="G"/></filter>
</defs>
<polygon points="600,815 884,815 884,970 646,832" fill="#484850"/>
<polygon points="469,815 529.5,815 534.3,833 534,835.8 469,817.8" fill="#c9c395"/>
<polygon points="529.2,815 612,815 646,831.8 884,966.8 884,1048 690,927.4 662,910 600,871 534,832" fill="url(#tanp)"/>
<polygon points="610,815 619,815 648,830.5 646,833.5" fill="#8a8a92"/>
<polygon points="646,831 649.5,829 884,961 884,967.5" fill="#ec6e7e"/>
<polygon points="612,818 646,834.5 884,969 884,970.2 646,835.8 612,819.5" fill="#8c7c94" opacity="0.8"/>
<polygon points="636,861 653.7,849.3 884,983 884,1006.8" fill="#484850"/>
<polygon points="636,861 653.7,849.3 884,983 884,1006.8" fill="none" stroke="#8c7c94" stroke-width="0.8"/>
<polygon points="508,832.6 534,836 534,832 600,871 662,910 690,927.4 884,1047.9 884,1133 663.8,1133 551.7,1079.7 547.9,1093.7 508.4,1120.5 493,1102.6 480.4,1072 476.6,1049 490.6,1036.4 485.5,1023.7 476.6,988.5 485.5,927.4 498.2,876.4" fill="#3a68ec"/>
<polygon points="508,832.6 534,836.5 539,843 523,874 515,890 496,940 478,990 476.6,988.5 485.5,927.4 498.2,876.4" fill="#3259dc"/>
<polygon points="534,834 600,871 662,910 690,927.4 884,1047.9 884,1056 690,935.5 600,879 545,846" fill="#3054d8"/>
<path d="M476.3,1049.9 L489.6,1037.9 L550,1077.8 L551.4,1092.4 L508.9,1120.3 Q492,1108 487.6,1100.4 Q481,1088 479.6,1073.8 Z" fill="#3a66ea"/>
<polygon points="476.3,1049.9 489.6,1037.9 550,1077.8 538,1085.5" fill="#3458dc"/>
<polygon points="546,1080.5 550,1077.8 551.4,1092.4 547,1095" fill="#2444c4"/>
<g filter="url(#fuzz)">
<polygon points="605.4,880.0 615.9,881.0 574.8,960.0 564.2,960.0" fill="#d07c30" opacity="1.0"/>
<polygon points="565.0,960.0 574.0,961.0 548.5,1011.0 539.5,1011.0" fill="#d07c30" opacity="0.9"/>
<polygon points="540.5,1011.0 547.5,1012.0 527.2,1062.0 520.2,1062.0" fill="#d07c30" opacity="0.65"/>
<polygon points="521.2,1062.0 526.2,1063.0 513.5,1110.0 508.5,1110.0" fill="#d07c30" opacity="0.45"/>
<polygon points="636.8,905.0 639.2,906.0 576.2,1050.0 573.8,1050.0" fill="#d07c30" opacity="0.6"/>
<polygon points="657.7,910.0 663.7,911.0 603.5,1096.0 597.5,1096.0" fill="#d07c30" opacity="0.9"/>
<polygon points="683.0,927.0 685.0,928.0 641.0,1040.0 639.0,1040.0" fill="#d07c30" opacity="0.5"/>
<polygon points="702.9,940.0 708.9,941.0 648.7,1121.0 642.7,1121.0" fill="#d07c30" opacity="0.9"/>
<polygon points="739.2,962.0 740.8,963.0 690.8,1100.0 689.2,1100.0" fill="#d07c30" opacity="0.4"/>
<polygon points="788.5,993.0 794.0,994.0 723.8,1133.0 718.2,1133.0" fill="#d07c30" opacity="0.95"/>
<polygon points="798.2,1000.0 801.8,1001.0 743.8,1133.0 740.2,1133.0" fill="#d07c30" opacity="0.8"/>
<polygon points="828.8,1018.0 833.8,1019.0 783.7,1133.0 778.7,1133.0" fill="#d07c30" opacity="0.95"/>
<polygon points="846.4,1032.0 856.4,1033.0 813.0,1133.0 803.0,1133.0" fill="#d07c30" opacity="0.8"/>
<polygon points="537.3,845.0 543.3,846.0 485.6,995.0 479.6,995.0" fill="#d07c30" opacity="0.45"/>
<polygon points="574.0,865.0 576.0,866.0 531.0,985.0 529.0,985.0" fill="#d07c30" opacity="0.4"/>
<polygon points="869.2,1050.0 870.8,1051.0 845.8,1133.0 844.2,1133.0" fill="#d07c30" opacity="0.4"/>
<rect x="559.9" y="970.2" width="9.0" height="1.8" fill="#8c8478" opacity="0.6"/>
<rect x="554.8" y="980.4" width="9.0" height="1.8" fill="#8c8478" opacity="0.6"/>
<rect x="549.7" y="990.6" width="9.0" height="1.8" fill="#8c8478" opacity="0.6"/>
<rect x="544.6" y="1000.8" width="9.0" height="1.8" fill="#8c8478" opacity="0.6"/>
<rect x="654.7" y="919.3" width="6.0" height="1.8" fill="#8c8478" opacity="0.6"/>
<rect x="651.7" y="928.6" width="6.0" height="1.8" fill="#8c8478" opacity="0.6"/>
<rect x="648.7" y="937.9" width="6.0" height="1.8" fill="#8c8478" opacity="0.6"/>
<rect x="645.7" y="947.2" width="6.0" height="1.8" fill="#8c8478" opacity="0.6"/>
<rect x="642.7" y="956.5" width="6.0" height="1.8" fill="#8c8478" opacity="0.6"/>
<rect x="639.6" y="965.8" width="6.0" height="1.8" fill="#8c8478" opacity="0.6"/>
<rect x="636.6" y="975.1" width="6.0" height="1.8" fill="#8c8478" opacity="0.6"/>
<rect x="633.6" y="984.4" width="6.0" height="1.8" fill="#8c8478" opacity="0.6"/>
<rect x="630.6" y="993.7" width="6.0" height="1.8" fill="#8c8478" opacity="0.6"/>
<rect x="627.6" y="1003.0" width="6.0" height="1.8" fill="#8c8478" opacity="0.6"/>
<rect x="624.6" y="1012.3" width="6.0" height="1.8" fill="#8c8478" opacity="0.6"/>
<rect x="621.6" y="1021.6" width="6.0" height="1.8" fill="#8c8478" opacity="0.6"/>
<rect x="618.6" y="1030.9" width="6.0" height="1.8" fill="#8c8478" opacity="0.6"/>
<rect x="615.6" y="1040.2" width="6.0" height="1.8" fill="#8c8478" opacity="0.6"/>
<rect x="612.5" y="1049.5" width="6.0" height="1.8" fill="#8c8478" opacity="0.6"/>
<rect x="609.5" y="1058.8" width="6.0" height="1.8" fill="#8c8478" opacity="0.6"/>
<rect x="606.5" y="1068.1" width="6.0" height="1.8" fill="#8c8478" opacity="0.6"/>
<rect x="603.5" y="1077.4" width="6.0" height="1.8" fill="#8c8478" opacity="0.6"/>
<rect x="600.5" y="1086.7" width="6.0" height="1.8" fill="#8c8478" opacity="0.6"/>
<rect x="699.9" y="949.0" width="6.0" height="1.8" fill="#8c8478" opacity="0.6"/>
<rect x="696.9" y="958.1" width="6.0" height="1.8" fill="#8c8478" opacity="0.6"/>
<rect x="693.9" y="967.1" width="6.0" height="1.8" fill="#8c8478" opacity="0.6"/>
<rect x="690.9" y="976.2" width="6.0" height="1.8" fill="#8c8478" opacity="0.6"/>
<rect x="687.9" y="985.2" width="6.0" height="1.8" fill="#8c8478" opacity="0.6"/>
<rect x="684.8" y="994.3" width="6.0" height="1.8" fill="#8c8478" opacity="0.6"/>
<rect x="681.8" y="1003.4" width="6.0" height="1.8" fill="#8c8478" opacity="0.6"/>
<rect x="678.8" y="1012.4" width="6.0" height="1.8" fill="#8c8478" opacity="0.6"/>
<rect x="675.8" y="1021.5" width="6.0" height="1.8" fill="#8c8478" opacity="0.6"/>
<rect x="672.8" y="1030.5" width="6.0" height="1.8" fill="#8c8478" opacity="0.6"/>
<rect x="669.8" y="1039.5" width="6.0" height="1.8" fill="#8c8478" opacity="0.6"/>
<rect x="666.8" y="1048.6" width="6.0" height="1.8" fill="#8c8478" opacity="0.6"/>
<rect x="663.8" y="1057.7" width="6.0" height="1.8" fill="#8c8478" opacity="0.6"/>
<rect x="660.8" y="1066.7" width="6.0" height="1.8" fill="#8c8478" opacity="0.6"/>
<rect x="657.8" y="1075.8" width="6.0" height="1.8" fill="#8c8478" opacity="0.6"/>
<rect x="654.7" y="1084.8" width="6.0" height="1.8" fill="#8c8478" opacity="0.6"/>
<rect x="651.7" y="1093.8" width="6.0" height="1.8" fill="#8c8478" opacity="0.6"/>
<rect x="648.7" y="1102.9" width="6.0" height="1.8" fill="#8c8478" opacity="0.6"/>
<rect x="645.7" y="1112.0" width="6.0" height="1.8" fill="#8c8478" opacity="0.6"/>
<rect x="783.8" y="1002.3" width="5.5" height="1.8" fill="#8c8478" opacity="0.6"/>
<rect x="779.1" y="1011.7" width="5.5" height="1.8" fill="#8c8478" opacity="0.6"/>
<rect x="774.4" y="1021.0" width="5.5" height="1.8" fill="#8c8478" opacity="0.6"/>
<rect x="769.7" y="1030.3" width="5.5" height="1.8" fill="#8c8478" opacity="0.6"/>
<rect x="765.1" y="1039.7" width="5.5" height="1.8" fill="#8c8478" opacity="0.6"/>
<rect x="760.4" y="1049.0" width="5.5" height="1.8" fill="#8c8478" opacity="0.6"/>
<rect x="755.7" y="1058.3" width="5.5" height="1.8" fill="#8c8478" opacity="0.6"/>
<rect x="751.0" y="1067.7" width="5.5" height="1.8" fill="#8c8478" opacity="0.6"/>
<rect x="746.3" y="1077.0" width="5.5" height="1.8" fill="#8c8478" opacity="0.6"/>
<rect x="741.6" y="1086.3" width="5.5" height="1.8" fill="#8c8478" opacity="0.6"/>
<rect x="737.0" y="1095.7" width="5.5" height="1.8" fill="#8c8478" opacity="0.6"/>
<rect x="732.3" y="1105.0" width="5.5" height="1.8" fill="#8c8478" opacity="0.6"/>
<rect x="727.6" y="1114.3" width="5.5" height="1.8" fill="#8c8478" opacity="0.6"/>
<rect x="722.9" y="1123.7" width="5.5" height="1.8" fill="#8c8478" opacity="0.6"/>
<rect x="824.6" y="1027.6" width="5.0" height="1.8" fill="#8c8478" opacity="0.6"/>
<rect x="820.4" y="1037.2" width="5.0" height="1.8" fill="#8c8478" opacity="0.6"/>
<rect x="816.3" y="1046.8" width="5.0" height="1.8" fill="#8c8478" opacity="0.6"/>
<rect x="812.1" y="1056.3" width="5.0" height="1.8" fill="#8c8478" opacity="0.6"/>
<rect x="807.9" y="1065.9" width="5.0" height="1.8" fill="#8c8478" opacity="0.6"/>
<rect x="803.8" y="1075.5" width="5.0" height="1.8" fill="#8c8478" opacity="0.6"/>
<rect x="799.6" y="1085.1" width="5.0" height="1.8" fill="#8c8478" opacity="0.6"/>
<rect x="795.4" y="1094.7" width="5.0" height="1.8" fill="#8c8478" opacity="0.6"/>
<rect x="791.2" y="1104.2" width="5.0" height="1.8" fill="#8c8478" opacity="0.6"/>
<rect x="787.1" y="1113.8" width="5.0" height="1.8" fill="#8c8478" opacity="0.6"/>
<rect x="782.9" y="1123.4" width="5.0" height="1.8" fill="#8c8478" opacity="0.6"/>
<rect x="842.5" y="1041.2" width="10.0" height="1.8" fill="#8c8478" opacity="0.6"/>
<rect x="838.5" y="1050.4" width="10.0" height="1.8" fill="#8c8478" opacity="0.6"/>
<rect x="834.6" y="1059.5" width="10.0" height="1.8" fill="#8c8478" opacity="0.6"/>
<rect x="830.6" y="1068.7" width="10.0" height="1.8" fill="#8c8478" opacity="0.6"/>
<rect x="826.7" y="1077.9" width="10.0" height="1.8" fill="#8c8478" opacity="0.6"/>
<rect x="822.7" y="1087.1" width="10.0" height="1.8" fill="#8c8478" opacity="0.6"/>
<rect x="818.8" y="1096.3" width="10.0" height="1.8" fill="#8c8478" opacity="0.6"/>
<rect x="814.8" y="1105.5" width="10.0" height="1.8" fill="#8c8478" opacity="0.6"/>
<rect x="810.9" y="1114.6" width="10.0" height="1.8" fill="#8c8478" opacity="0.6"/>
<rect x="806.9" y="1123.8" width="10.0" height="1.8" fill="#8c8478" opacity="0.6"/>
<rect x="605.6" y="880.0" width="10" height="3" fill="#8c8478" opacity="0.55"/>
<rect x="601.1" y="888.8" width="10" height="3" fill="#8c8478" opacity="0.55"/>
<rect x="596.7" y="897.6" width="10" height="3" fill="#8c8478" opacity="0.55"/>
<rect x="592.2" y="906.4" width="10" height="3" fill="#8c8478" opacity="0.55"/>
<rect x="587.7" y="915.1" width="10" height="3" fill="#8c8478" opacity="0.55"/>
<rect x="583.2" y="923.9" width="10" height="3" fill="#8c8478" opacity="0.55"/>
<rect x="578.8" y="932.7" width="10" height="3" fill="#8c8478" opacity="0.55"/>
<rect x="574.3" y="941.5" width="10" height="3" fill="#8c8478" opacity="0.55"/>
<rect x="569.8" y="950.3" width="10" height="3" fill="#8c8478" opacity="0.55"/>
<rect x="565.4" y="959.1" width="10" height="3" fill="#8c8478" opacity="0.55"/>
<rect x="560.9" y="967.9" width="10" height="3" fill="#8c8478" opacity="0.55"/>
<rect x="556.4" y="976.6" width="10" height="3" fill="#8c8478" opacity="0.55"/>
<rect x="551.9" y="985.4" width="10" height="3" fill="#8c8478" opacity="0.55"/>
<rect x="547.5" y="994.2" width="10" height="3" fill="#8c8478" opacity="0.55"/>
<polygon points="478,1052 490,1042 496,1058 484,1078" fill="#d07c30" opacity="0.55"/>
<polygon points="578.5,1002 580,1004 549,1078 550,1091.5 509.5,1119.5 505,1112 518,1090 541,1072" fill="#cc7a32" opacity="0.95"/>
</g>
<circle cx="823.8" cy="855.5" r="4.2" fill="#5a64a0"/><circle cx="823" cy="856.5" r="2" fill="#48508a"/>
</g>
<!-- g -->
<g clip-path="url(#cg)">
<rect x="20" y="1216" width="416" height="318" fill="#fff"/>
<polygon points="262,1369.5 306.4,1346.6 344,1327.8 356,1321 363.3,1319 421.5,1400.7 404.9,1415.5 359.6,1345.5 340,1354 310.7,1369.5 272,1369.5" fill="#c48a62" filter="url(#weaveF)"/>
<polygon points="233.2,1216 255.4,1216 363.3,1319 332.9,1321.8" fill="#f1edc2"/>
<polygon points="222,1216 241.5,1216 233.2,1223.5" fill="#c07c48"/>
<polygon points="269.5,1236.0 278.5,1242.0 275.5,1252.0 270.5,1250.0" fill="#c07848" opacity="0.85"/>
<polygon points="291.5,1260.4 297.8,1264.6 295.7,1271.6 292.2,1270.2" fill="#c07848" opacity="0.85"/>
<polygon points="308.5,1281.8 316.6,1287.2 313.9,1296.2 309.4,1294.4" fill="#c07848" opacity="0.85"/>
<polygon points="331.0,1305.6 338.2,1310.4 335.8,1318.4 331.8,1316.8" fill="#c07848" opacity="0.85"/>
<polygon points="255.4,1216 312,1216 395,1292 436,1341 436,1388 418.7,1400.7 363.3,1319" fill="#b9a98a"/>
<polygon points="311.3,1216 436,1216 436,1343 394.5,1293" fill="#484850"/>
<polygon points="308.3,1216 311.8,1216 395.5,1292 436,1340 436,1344.5 393,1294.5" fill="#ec6e7e"/>
<polygon points="280.3,1216 298.3,1216 388.3,1294 393.8,1301 436,1366 436,1385.5 380,1309.4 364.7,1294" fill="#484850"/>
<path d="M255.4,1216 L363.3,1319 L418.7,1400.7" stroke="#2030a0" stroke-width="0.9" stroke-dasharray="4 2" fill="none"/>
<polygon points="418.7,1400.7 436,1388 436,1391 421,1402" fill="#1c2a9c"/>
<rect x="432.5" y="1393" width="3.5" height="6" fill="#101030"/>
<polygon points="20,1426.7 198.7,1379 240,1375.4 262,1369 306.4,1369 328.6,1361 340.8,1353.2 359.6,1345.5 405,1415.2 399,1420.5 304,1467.7 246.4,1497.9 180.2,1534 20,1534" fill="#2a4ce2"/>
<polygon points="399,1420.5 304,1467.7 246.4,1497.9 180.2,1534 150,1534 246,1487 300,1462 396,1416" fill="#2644d2"/>
</g>
<!-- h -->
<g clip-path="url(#ch)">
<rect x="469" y="1216" width="415" height="318" fill="#fff"/>
<defs>
<linearGradient id="blH" gradientUnits="userSpaceOnUse" x1="500" y1="1240" x2="620" y2="1480"><stop offset="0" stop-color="#274ce0"/><stop offset="1" stop-color="#2b52e4"/></linearGradient>
<linearGradient id="dkH" gradientUnits="userSpaceOnUse" x1="800" y1="1320" x2="560" y2="1520"><stop offset="0" stop-color="#1f37b4"/><stop offset="0.6" stop-color="#2240c4"/><stop offset="1" stop-color="#2648d4"/></linearGradient>
<linearGradient id="olH" gradientUnits="userSpaceOnUse" x1="880" y1="1370" x2="750" y2="1490"><stop offset="0" stop-color="#a6a278"/><stop offset="0.6" stop-color="#aeaa80"/><stop offset="1" stop-color="#bcb88e"/></linearGradient>
<filter id="softH" x="-5%" y="-5%" width="110%" height="110%"><feGaussianBlur stdDeviation="1.6"/></filter>
</defs>
<polygon points="469,1216 640,1216 469,1270" fill="#e0dcb0"/>
<polygon points="884,1358 884,1534 540,1534 600,1480 750,1420" fill="#d9d5a6"/>
<g filter="url(#softH)">
<polygon points="884,1361 815.6,1398.2 757,1433.9 706,1464.4 673,1479.7 640,1490 700,1492 760,1450 820,1410 884,1372" fill="#cfcb9c"/>
<polygon points="884,1364 884,1396 826,1440 783,1484 757,1494 742,1490 768,1446 815,1403" fill="url(#olH)"/>
<polygon points="640,1490 673,1479.7 706,1464.4 742,1490 757,1494 735,1534 560,1534 600,1500" fill="#cdc99c"/>
<polygon points="623,1492.5 673,1479.7 706,1466 734,1487 700,1496 650,1497" fill="#b6b288"/>
<polygon points="734,1487 757,1494 742,1534 725,1534" fill="#c2be92"/>
<polygon points="783,1484 826,1440 884,1396 884,1534 742,1534 757,1494" fill="#dcd8ac"/>
<polygon points="785,1485 826,1469.5 884,1510 884,1534 760,1534" fill="#e0dcb2"/>
<polygon points="757,1494 785,1484.5 826,1468.5 884,1508.5 884,1511.5 826,1471.5 786,1487 758,1496" fill="#ebe7c0"/>
</g>
<polygon points="694.6,1216 743,1216 851.3,1338.8 800,1320 740,1300" fill="#fde8de"/>
<polygon points="469,1266.2 630.7,1216 694.6,1216 713.8,1245.8 738,1280.2 734,1293 754.5,1301.9 785,1309.5 791.4,1309.5 851.3,1338.8 884,1355.4 884,1361.3 815.6,1398.2 757,1433.9 706,1464.4 673,1479.7 658.7,1484.8 623,1492.5 567,1534 469,1534" fill="url(#blH)"/>
<polygon points="748,1299 754.5,1301.9 785,1309.5 791.4,1309.5 851.3,1338.8 884,1355.4 884,1361.3 815.6,1398.2 757,1433.9 706,1464.4 673,1479.7 658.7,1484.8 623,1492.5 567,1534 469,1534 469,1528 560,1455 598,1426 644,1392 682,1361.5 713,1338.6 756,1304" fill="url(#dkH)"/>
<polygon points="469,1502.6 521,1467 690,1362.5 745,1303 756,1304 713,1338.6 682,1361.5 644,1392 598,1426 560,1455 469,1528" fill="#2749da"/>
<polygon points="469,1502.6 521,1467 600,1418 600,1421 521,1470 469,1506" fill="#2240c8"/>
<path d="M549,1506.5 C580,1500 600,1497 623,1492.5" stroke="#1c30a4" stroke-width="2" fill="none" opacity="0.6"/>
</g>
<g font-family="Liberation Serif, serif" font-weight="bold" font-size="36" text-anchor="middle" fill="#000">
<text x="238" y="385">(a)</text>
<text x="687.5" y="385">(b)</text>
<text x="227.5" y="786">(c)</text>
<text x="677.5" y="786">(d)</text>
<text x="227.5" y="1187">(e)</text>
<text x="677.5" y="1187">(f)</text>
<text x="227.5" y="1588">(g)</text>
<text x="677.5" y="1588">(h)</text>
</g>
</svg>
</body></html>
